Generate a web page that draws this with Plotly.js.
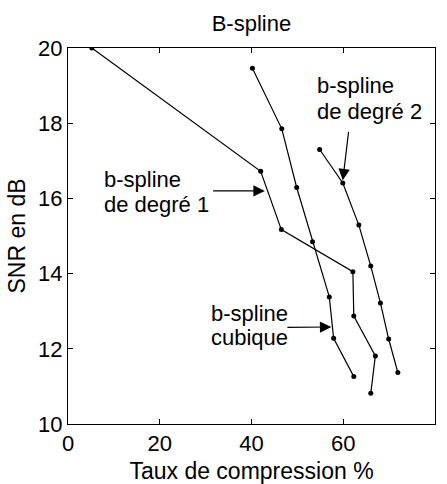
<!DOCTYPE html>
<html>
<head>
<meta charset="utf-8">
<script src="https://cdn.plot.ly/plotly-3.0.1.min.js"></script>
<style>html,body{margin:0;padding:0;background:#fff;}#chart{width:447px;height:484px;}</style>
</head>
<body>
<div id="chart"></div>
<script>
// Taux de compression (%) and SNR (dB) for each B-spline degree
const deg1X = [5.2, 42.0, 46.5, 62.1, 62.3, 67.0, 66.0];
const deg1Y = [20.0, 16.72, 15.17, 14.05, 12.87, 11.81, 10.82];

const cubX = [40.2, 46.6, 49.85, 53.3, 56.96, 57.9, 62.3];
const cubY = [19.46, 17.85, 16.29, 14.85, 13.38, 12.28, 11.26];

const deg2X = [54.85, 59.9, 63.4, 66.0, 68.1, 69.9, 71.9];
const deg2Y = [17.30, 16.41, 15.29, 14.2, 13.22, 12.26, 11.37];

const xTicks = [0, 20, 40, 60, 80];
const yTicks = [10, 12, 14, 16, 18, 20];

const FONT = 'Liberation Sans, Arial, sans-serif';

function series(x, y, name) {
  return {
    x: x, y: y, name: name, type: 'scatter', mode: 'lines+markers',
    line: {color: '#000', width: 1.2},
    marker: {color: '#000', size: 5, symbol: 'circle'},
    showlegend: false, hoverinfo: 'skip'
  };
}

function label(text, x, y) {
  return {text: text, x: x, y: y, xref: 'x', yref: 'y', showarrow: false,
          xanchor: 'left', yanchor: 'middle', align: 'left',
          font: {family: FONT, size: 22, color: '#000'}};
}
function arrow(x, y, ax, ay) {
  return {text: '', x: x, y: y, ax: ax, ay: ay, xref: 'x', yref: 'y',
          axref: 'x', ayref: 'y', showarrow: true, arrowhead: 2,
          arrowsize: 1.9, arrowwidth: 1.2, arrowcolor: '#000', standoff: 0};
}

const data = [
  series(deg1X, deg1Y, 'b-spline de degré 1'),
  series(cubX, cubY, 'b-spline cubique'),
  series(deg2X, deg2Y, 'b-spline de degré 2')
];

const layout = {
  width: 447, height: 484,
  margin: {l: 68, r: 11.5, t: 47.5, b: 60, pad: 0},
  paper_bgcolor: '#fff', plot_bgcolor: '#fff',
  font: {family: FONT, color: '#000', size: 22},
  title: {text: 'B-spline', x: 0.5625, xanchor: 'center', y: 0.952, yanchor: 'middle',
          font: {family: FONT, size: 22, color: '#000'}},
  xaxis: {
    range: [0, 80], tickvals: xTicks, ticktext: xTicks.map(String),
    ticks: 'inside', ticklen: 5, tickwidth: 1, tickcolor: '#000',
    showline: true, linecolor: '#000', linewidth: 1, mirror: 'ticks',
    showgrid: false, zeroline: false,
    tickfont: {family: FONT, size: 22, color: '#000'},
    title: {text: 'Taux de compression %', font: {family: FONT, size: 23, color: '#000'}, standoff: 11}
  },
  yaxis: {
    range: [10, 20], tickvals: yTicks, ticktext: yTicks.map(String),
    ticks: 'inside', ticklen: 5, tickwidth: 1, tickcolor: '#000',
    showline: true, linecolor: '#000', linewidth: 1, mirror: 'ticks',
    showgrid: false, zeroline: false,
    tickfont: {family: FONT, size: 22, color: '#000'},
    title: {text: 'SNR en dB', font: {family: FONT, size: 23, color: '#000'}, standoff: 6}
  },
  annotations: [
    label('b-spline', 7.4, 16.51),
    label('de degré 1', 7.4, 15.84),
    arrow(42.9, 16.2, 31.3, 16.2),
    label('b-spline', 53.8, 19.0),
    label('de degré 2', 53.8, 18.32),
    arrow(59.9, 16.48, 61.2, 17.81),
    label('b-spline', 30.7, 12.95),
    label('cubique', 30.7, 12.30),
    arrow(57.4, 12.58, 47.5, 12.57)
  ]
};

Plotly.newPlot('chart', data, layout, {staticPlot: true, displayModeBar: false});
</script>
</body>
</html>
